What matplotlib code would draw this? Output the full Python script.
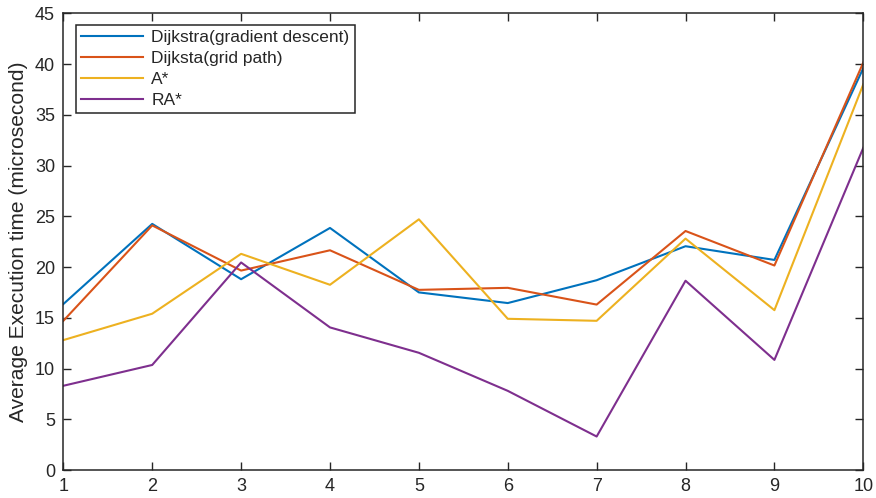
import matplotlib
matplotlib.use("Agg")
import matplotlib.pyplot as plt

x = [1, 2, 3, 4, 5, 6, 7, 8, 9, 10]
dijkstra_gd = [16.35, 24.25, 18.8, 23.85, 17.5, 16.45, 18.7, 22.05, 20.7, 39.6]
dijkstra_grid = [14.7, 24.1, 19.65, 21.65, 17.75, 17.95, 16.3, 23.55, 20.15, 40.15]
a_star = [12.8, 15.4, 21.3, 18.25, 24.7, 14.9, 14.7, 22.8, 15.75, 38.0]
ra_star = [8.3, 10.35, 20.45, 14.05, 11.55, 7.8, 3.3, 18.65, 10.85, 31.75]

labels = ["Dijkstra(gradient descent)", "Dijksta(grid path)", "A*", "RA*"]
colors = ["#0072BD", "#D95319", "#EDB120", "#7E2F8E"]
yticks = [0, 5, 10, 15, 20, 25, 30, 35, 40, 45]

plt.rcParams['font.family'] = ['Liberation Sans', 'DejaVu Sans']
fig = plt.figure(figsize=(8.76, 4.98), dpi=100)
ax = fig.add_axes([0.0723, 0.0562, 0.9132, 0.9171])

for series, lab, c in zip([dijkstra_gd, dijkstra_grid, a_star, ra_star], labels, colors):
    ax.plot(x, series, color=c, lw=1.5, label=lab)

ax.set_xlim(1, 10)
ax.set_ylim(0, 45)
ax.set_xticks(x)
ax.set_yticks(yticks)
axc = "#262626"
for s in ax.spines.values():
    s.set_color(axc)
    s.set_linewidth(1.1)
ax.tick_params(direction='in', length=6, width=1.0, color=axc, labelcolor=axc,
               labelsize=13, top=True, right=True, pad=6)
ax.set_ylabel("Average Execution time (microsecond)", fontsize=15.1, color=axc, labelpad=5)

leg = ax.legend(loc='upper left', bbox_to_anchor=(0.0155, 0.975), fontsize=12.5,
                fancybox=False, framealpha=1, edgecolor=axc, handlelength=3.6,
                borderpad=0.3, labelspacing=0.33, handletextpad=0.45, borderaxespad=0)
leg.get_frame().set_linewidth(1.1)
for t in leg.get_texts():
    t.set_color(axc)

fig.savefig("out.png", dpi=100)
